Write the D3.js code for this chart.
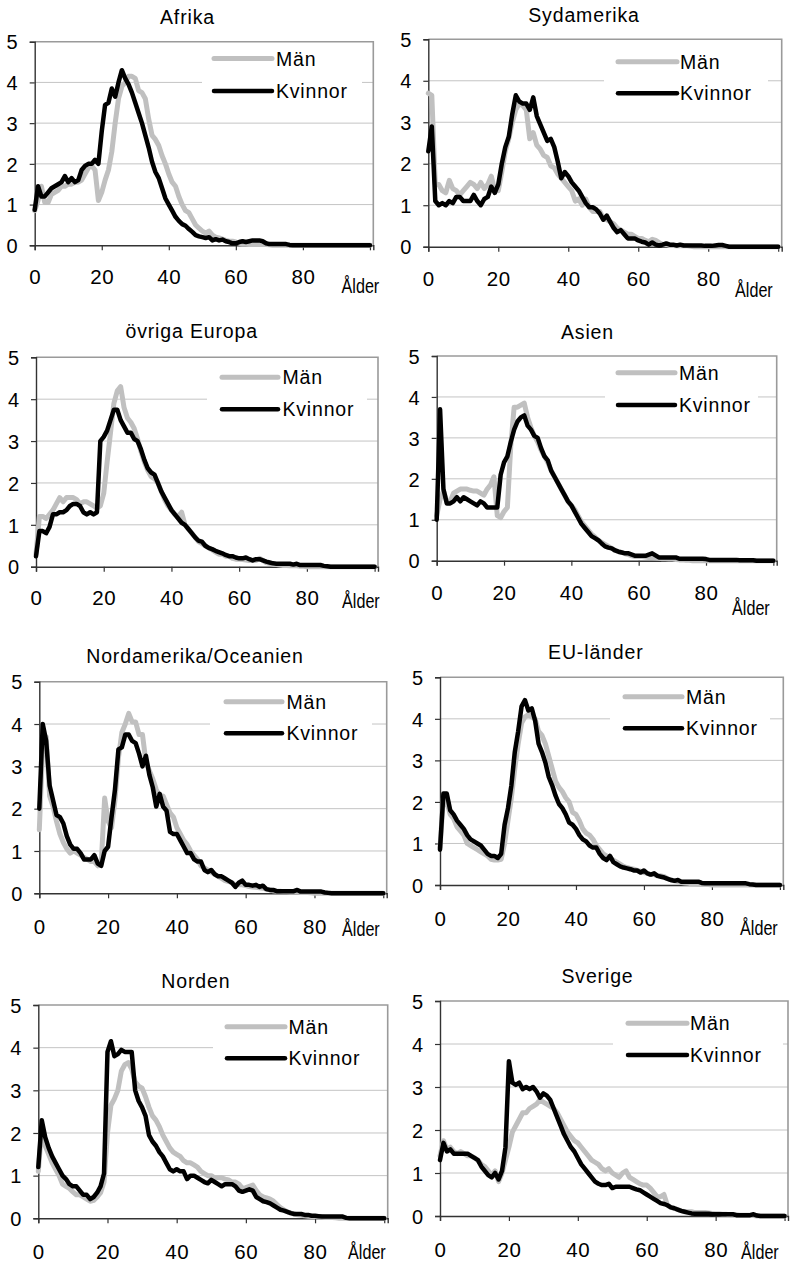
<!DOCTYPE html>
<html>
<head>
<meta charset="utf-8">
<script src="https://cdn.jsdelivr.net/npm/d3@7"></script>
<style>
  body { margin: 0; background: #fff; }
  svg { display: block; font-family: "Liberation Sans", Arial, sans-serif; }
</style>
</head>
<body>
<svg id="chart" width="790" height="1264"></svg>
<script>
// ---------- DATA ----------
const ages = d3.range(0, 101);
const seriesNames = ["Män", "Kvinnor"];
const xTickValues = [0, 20, 40, 60, 80];
const yTickValues = [0, 1, 2, 3, 4, 5];
const titles = ["Afrika", "Sydamerika", "övriga Europa", "Asien", "Nordamerika/Oceanien", "EU-länder", "Norden", "Sverige"];
const xAxisLabel = "Ålder";

const afrikaMan = [
0.85,1.1,1.45,1.05,1.05,1.25,1.3,1.35,1.45,1.45,
1.5,1.5,1.55,1.55,1.6,1.75,1.9,1.95,1.85,1.1,
1.3,1.6,1.85,2.3,3.0,3.6,3.9,4.0,4.15,4.15,
4.1,3.8,3.75,3.6,3.1,2.7,2.6,2.45,2.2,2.0,
1.75,1.55,1.45,1.2,1.0,0.85,0.8,0.65,0.5,0.42,
0.35,0.3,0.35,0.25,0.2,0.18,0.15,0.12,0.1,0.1,
0.08,0.05,0.03,0.03,0.02,0.02,0.02,0.02,0.02,0.02,
0.01,0,0,0,0,0,0,0,0,0,
0,0,0,0,0,0,0,0,0,0,
0,0,0,0,0,0,0,0,0,0,0];
const afrikaKvinnor = [
0.87,1.45,1.2,1.2,1.3,1.4,1.45,1.5,1.55,1.7,
1.55,1.65,1.55,1.6,1.85,1.95,2.0,2.0,2.1,2.0,
2.8,3.45,3.5,3.85,3.65,4.0,4.3,4.1,3.95,3.75,
3.5,3.25,3.0,2.7,2.4,2.05,1.8,1.65,1.4,1.15,
1.0,0.85,0.7,0.6,0.52,0.48,0.4,0.33,0.25,0.22,
0.2,0.18,0.2,0.12,0.15,0.12,0.14,0.1,0.08,0.05,
0.05,0.08,0.1,0.08,0.1,0.12,0.12,0.12,0.1,0.05,
0.03,0.03,0.03,0.03,0.03,0.03,0.01,0,0,0,
0,0,0,0,0,0,0,0,0,0,
0,0,0,0,0,0,0,0,0,0,0];

const sydamerikaMan = [
3.7,3.65,1.5,1.5,1.35,1.3,1.6,1.4,1.35,1.25,
1.35,1.45,1.55,1.5,1.4,1.55,1.4,1.5,1.7,1.35,
1.35,1.8,2.3,2.6,3.0,3.3,3.45,3.4,3.3,2.6,
2.75,2.45,2.35,2.2,2.15,1.95,1.9,1.75,1.65,1.55,
1.45,1.35,1.1,1.15,1.0,1.15,0.95,0.85,0.85,0.85,
0.7,0.65,0.6,0.55,0.45,0.4,0.35,0.3,0.3,0.25,
0.2,0.2,0.15,0.12,0.18,0.15,0.1,0.05,0.05,0.03,
0.03,0.02,0.02,0.02,0.02,0.01,0,0,0,0,
0,0,0,0,0,0,0,0,0,0,
0,0,0,0,0,0,0,0,0,0,0];
const sydamerikaKvinnor = [
2.3,2.9,1.1,1.0,1.05,1.0,1.1,1.05,1.2,1.2,
1.1,1.1,1.1,1.25,1.1,1.0,1.15,1.2,1.45,1.3,
1.5,2.0,2.4,2.65,3.2,3.65,3.5,3.45,3.45,3.3,
3.6,3.15,2.95,2.75,2.55,2.6,2.4,2.05,1.65,1.8,
1.7,1.55,1.45,1.35,1.2,1.05,0.95,0.95,0.9,0.8,
0.65,0.75,0.6,0.45,0.35,0.4,0.3,0.2,0.2,0.2,
0.15,0.12,0.1,0.05,0.1,0.05,0.03,0.05,0.08,0.05,
0.05,0.03,0.05,0.03,0.03,0.03,0.03,0.03,0.03,0.02,
0.02,0.02,0.03,0.04,0.04,0.02,0,0,0,0,
0,0,0,0,0,0,0,0,0,0,0];

const europaMan = [
0.3,1.2,1.2,1.15,1.25,1.35,1.5,1.65,1.55,1.65,
1.65,1.65,1.6,1.5,1.55,1.55,1.5,1.45,1.4,1.45,
1.75,2.5,3.2,3.9,4.2,4.3,3.8,3.55,3.45,3.3,
3.05,2.75,2.5,2.3,2.15,2.1,2.0,1.8,1.6,1.45,
1.35,1.25,1.2,1.3,1.0,0.9,0.8,0.7,0.6,0.55,
0.5,0.45,0.4,0.35,0.3,0.3,0.25,0.25,0.2,0.18,
0.18,0.17,0.16,0.15,0.15,0.15,0.2,0.15,0.1,0.08,
0.06,0.05,0.04,0.03,0.03,0.02,0.02,0.02,0.01,0.01,
0,0,0,0,0,0,0,0,0,0,
0,0,0,0,0,0,0,0,0,0,0];
const europaKvinnor = [
0.25,0.85,0.85,0.8,0.95,1.25,1.25,1.3,1.3,1.35,
1.45,1.5,1.5,1.45,1.3,1.25,1.3,1.25,1.3,3.0,
3.1,3.25,3.5,3.75,3.75,3.5,3.35,3.2,3.2,3.05,
3.0,2.8,2.55,2.35,2.25,2.2,2.0,1.8,1.65,1.5,
1.35,1.25,1.15,1.05,1.0,0.9,0.8,0.7,0.62,0.6,
0.5,0.45,0.42,0.38,0.35,0.32,0.28,0.25,0.25,0.22,
0.2,0.2,0.22,0.18,0.15,0.18,0.18,0.15,0.12,0.1,
0.08,0.07,0.07,0.07,0.07,0.07,0.05,0.07,0.04,0.04,
0.04,0.04,0.04,0.04,0.04,0.02,0.01,0,0,0,
0,0,0,0,0,0,0,0,0,0,0];

const asienMan = [
1.1,1.5,1.7,1.45,1.45,1.65,1.7,1.75,1.75,1.75,
1.72,1.7,1.7,1.65,1.6,1.75,1.85,2.05,1.1,1.05,
1.2,1.3,2.8,3.75,3.75,3.8,3.85,3.5,3.25,3.05,
2.9,2.7,2.55,2.4,2.2,2.05,1.9,1.75,1.6,1.45,
1.35,1.25,1.1,0.95,0.85,0.75,0.65,0.58,0.5,0.45,
0.4,0.35,0.3,0.25,0.22,0.2,0.17,0.15,0.12,0.1,
0.1,0.1,0.09,0.08,0.08,0.07,0.06,0.05,0.05,0.04,
0.04,0.03,0.02,0.02,0.01,0.01,0,0,0,0,
0,0,0,0,0,0,0,0,0,0,
0,0,0,0,0,0,0,0,0,0,0];
const asienKvinnor = [
1.0,3.7,1.75,1.4,1.4,1.45,1.55,1.45,1.55,1.5,
1.45,1.4,1.35,1.45,1.4,1.3,1.3,1.3,1.3,2.1,
2.4,2.55,2.9,3.2,3.4,3.5,3.55,3.3,3.2,3.05,
3.0,2.75,2.55,2.45,2.2,2.05,1.9,1.75,1.6,1.45,
1.35,1.2,1.05,0.9,0.8,0.7,0.6,0.55,0.5,0.42,
0.35,0.32,0.3,0.25,0.22,0.2,0.18,0.18,0.15,0.12,
0.12,0.12,0.12,0.15,0.18,0.13,0.08,0.08,0.08,0.08,
0.08,0.08,0.05,0.05,0.05,0.05,0.05,0.05,0.05,0.05,
0.04,0.02,0.02,0.02,0.02,0.02,0.02,0.02,0.02,0.02,
0.01,0.01,0.01,0.01,0.01,0,0,0,0,0,0];

const nordamerikaMan = [
1.5,3.5,3.7,2.3,2.05,1.7,1.4,1.2,1.05,0.95,
1.0,0.95,0.9,0.85,0.8,0.75,0.75,0.65,0.7,2.25,
1.7,1.55,2.2,3.2,3.8,4.0,4.25,4.05,4.05,3.75,
3.75,3.1,2.9,2.7,2.45,2.3,2.3,2.1,1.9,1.8,
1.55,1.4,1.25,1.15,1.0,0.9,0.8,0.65,0.6,0.55,
0.5,0.45,0.4,0.35,0.3,0.28,0.25,0.2,0.2,0.2,
0.18,0.16,0.15,0.14,0.13,0.12,0.1,0.08,0.06,0.05,
0.05,0.04,0.04,0.03,0.03,0.03,0.02,0.02,0.02,0.01,
0,0,0,0,0,0,0,0,0,0,
0,0,0,0,0,0,0,0,0,0,0];
const nordamerikaKvinnor = [
2.0,4.0,3.6,2.55,2.2,1.85,1.8,1.65,1.35,1.15,
1.05,1.05,0.95,0.8,0.8,0.8,0.9,0.7,0.65,1.0,
1.1,1.8,2.45,3.4,3.45,3.75,3.75,3.6,3.55,3.3,
3.0,3.25,2.8,2.5,2.05,2.35,2.05,1.95,1.45,1.4,
1.4,1.25,1.1,0.95,0.95,0.8,0.75,0.75,0.55,0.5,
0.55,0.45,0.4,0.4,0.35,0.3,0.25,0.15,0.25,0.3,
0.2,0.2,0.18,0.2,0.15,0.18,0.1,0.08,0.08,0.05,
0.05,0.05,0.05,0.05,0.05,0.08,0.04,0.04,0.04,0.04,
0.04,0.04,0.04,0.02,0.01,0,0,0,0,0,
0,0,0,0,0,0,0,0,0,0,0];

const euMan = [
0.9,2.1,2.0,1.7,1.6,1.4,1.3,1.2,1.0,0.95,
0.9,0.85,0.8,0.75,0.7,0.62,0.6,0.6,0.62,1.0,
1.55,2.1,2.8,3.4,3.9,4.05,4.1,4.05,4.0,3.7,
3.6,3.4,3.1,2.8,2.5,2.35,2.25,2.1,2.0,1.75,
1.7,1.55,1.35,1.25,1.2,1.1,0.95,0.85,0.75,0.7,
0.65,0.6,0.55,0.5,0.45,0.42,0.4,0.38,0.35,0.33,
0.3,0.28,0.25,0.25,0.22,0.22,0.2,0.15,0.12,0.1,
0.08,0.06,0.05,0.04,0.03,0.03,0.02,0.02,0.02,0.01,
0,0,0,0,0,0,0,0,0,0,
0,0,0,0,0,0,0,0,0,0,0];
const euKvinnor = [
0.85,2.2,2.2,1.8,1.7,1.55,1.45,1.35,1.2,1.1,
1.05,1.0,0.95,0.85,0.75,0.7,0.7,0.65,0.75,1.45,
1.85,2.4,3.2,3.7,4.3,4.45,4.2,4.25,3.95,3.4,
3.2,2.95,2.6,2.4,2.15,1.95,1.85,1.7,1.5,1.45,
1.35,1.2,1.1,1.05,0.95,0.9,0.9,0.75,0.65,0.6,
0.7,0.55,0.5,0.45,0.42,0.4,0.38,0.35,0.35,0.3,
0.35,0.28,0.25,0.28,0.22,0.2,0.18,0.15,0.12,0.1,
0.12,0.08,0.08,0.08,0.08,0.08,0.08,0.05,0.04,0.04,
0.04,0.04,0.04,0.04,0.04,0.04,0.04,0.04,0.04,0.04,
0.04,0.02,0.01,0,0,0,0,0,0,0,0];

const nordenMan = [
1.1,2.1,1.7,1.5,1.3,1.15,1.0,0.8,0.75,0.7,
0.62,0.55,0.55,0.5,0.45,0.4,0.42,0.5,0.6,0.85,
2.0,2.65,2.8,3.0,3.45,3.6,3.65,3.5,3.2,3.1,
3.05,2.85,2.6,2.4,2.3,2.15,1.95,1.8,1.65,1.55,
1.5,1.45,1.35,1.3,1.3,1.25,1.2,1.1,1.05,1.0,
1.0,0.95,0.95,0.95,0.92,0.9,0.85,0.85,0.8,0.7,
0.72,0.75,0.78,0.65,0.55,0.5,0.48,0.45,0.4,0.32,
0.25,0.2,0.15,0.12,0.1,0.08,0.07,0.06,0.05,0.04,
0.04,0.03,0.03,0.02,0.02,0.02,0.01,0,0,0,
0,0,0,0,0,0,0,0,0,0,0];
const nordenKvinnor = [
1.2,2.3,1.9,1.65,1.45,1.3,1.15,1.0,0.92,0.8,
0.75,0.75,0.65,0.55,0.55,0.45,0.5,0.6,0.75,1.05,
3.9,4.15,3.8,3.85,3.95,3.9,3.9,3.9,3.0,2.75,
2.6,2.4,1.95,1.8,1.7,1.55,1.45,1.3,1.15,1.1,
1.15,1.1,1.1,0.92,1.0,1.0,0.95,0.9,0.85,0.82,
0.9,0.85,0.8,0.75,0.8,0.8,0.8,0.75,0.65,0.62,
0.65,0.68,0.65,0.5,0.45,0.4,0.38,0.35,0.3,0.25,
0.2,0.18,0.15,0.12,0.1,0.1,0.1,0.08,0.08,0.06,
0.06,0.05,0.04,0.04,0.04,0.04,0.04,0.04,0.04,0.01,
0,0,0,0,0,0,0,0,0,0,0];

const sverigeMan = [
1.4,1.75,1.55,1.6,1.5,1.45,1.5,1.45,1.4,1.4,
1.35,1.3,1.2,1.15,1.05,0.95,1.05,0.8,1.0,1.3,
1.6,1.95,2.1,2.25,2.4,2.4,2.5,2.55,2.6,2.7,
2.65,2.6,2.55,2.5,2.4,2.25,2.1,1.95,1.85,1.75,
1.7,1.6,1.5,1.4,1.3,1.25,1.2,1.1,1.05,1.1,
1.0,0.95,0.9,1.0,1.05,0.9,0.85,0.8,0.75,0.72,
0.72,0.65,0.55,0.45,0.45,0.5,0.25,0.2,0.18,0.15,
0.12,0.1,0.1,0.1,0.08,0.08,0.08,0.08,0.07,0.06,
0.05,0.05,0.04,0.04,0.03,0.03,0.03,0.02,0.02,0.02,
0.02,0.01,0,0,0,0,0,0,0,0,0];
const sverigeKvinnor = [
1.3,1.7,1.5,1.55,1.45,1.45,1.45,1.45,1.45,1.4,
1.35,1.3,1.15,1.05,0.95,0.9,1.0,0.85,1.05,1.6,
3.6,3.1,3.05,3.1,2.95,3.0,2.95,3.0,2.9,2.75,
2.85,2.8,2.7,2.5,2.3,2.1,1.9,1.75,1.6,1.5,
1.35,1.2,1.1,1.0,0.9,0.8,0.75,0.72,0.72,0.75,
0.65,0.68,0.68,0.68,0.68,0.68,0.65,0.62,0.6,0.55,
0.5,0.45,0.4,0.35,0.3,0.28,0.25,0.2,0.18,0.15,
0.12,0.1,0.08,0.06,0.05,0.05,0.05,0.05,0.05,0.04,
0.04,0.04,0.04,0.04,0.04,0.04,0.02,0.02,0.02,0.02,
0.02,0.04,0.01,0,0,0,0,0,0,0,0];

const manSeries = [afrikaMan, sydamerikaMan, europaMan, asienMan, nordamerikaMan, euMan, nordenMan, sverigeMan];
const kvinnorSeries = [afrikaKvinnor, sydamerikaKvinnor, europaKvinnor, asienKvinnor, nordamerikaKvinnor, euKvinnor, nordenKvinnor, sverigeKvinnor];

// ---------- LAYOUT (positions only) ----------
const layout = [
 {L:34.7, R:373.3, T:41.7,  B:245.3,  tx:187.5, ty:24,    xlb:283.5, ax:341.5, ay:293,  lx1:214, lx2:272, ly1:58.5,  ly2:91,    ltx:276,   bx0:202, bx1:362},
 {L:428.3,R:781.7, T:39.3,  B:246.7,  tx:584,   ty:22,    xlb:286,   ax:735,   ay:297,  lx1:618, lx2:677, ly1:61.7,  ly2:93.3,  ltx:680,   bx0:604, bx1:768},
 {L:36,   R:378,   T:357.3, B:566.7,  tx:191.7, ty:337.5, xlb:604.5, ax:342,   ay:608,  lx1:222, lx2:278, ly1:377.3, ly2:409.3, ltx:282.5, bx0:207, bx1:367},
 {L:436.7,R:776.7, T:356,   B:560.7,  tx:587.5, ty:338.5, xlb:599.5, ax:732,   ay:615,  lx1:618, lx2:675, ly1:372.7, ly2:405,   ltx:679,   bx0:605, bx1:758},
 {L:39.3, R:386.7, T:681.7, B:893.3,  tx:195,   ty:662.5, xlb:934,   ax:342,   ay:936,  lx1:226, lx2:282, ly1:701.7, ly2:733.3, ltx:286.5, bx0:210, bx1:372},
 {L:440,  R:783.3, T:677.3, B:885,    tx:595.8, ty:659.3, xlb:926,   ax:740,   ay:935,  lx1:625, lx2:682, ly1:696.7, ly2:728.3, ltx:686,   bx0:610, bx1:770},
 {L:38.3, R:387.7, T:1005,  B:1218.3, tx:195.8, ty:987.7, xlb:1259,  ax:348,   ay:1259, lx1:227, lx2:285, ly1:1026.7,ly2:1058.3,ltx:288.5, bx0:213, bx1:387.7},
 {L:440,  R:788,   T:1001,  B:1216,   tx:597.5, ty:983.3, xlb:1257,  ax:741,   ay:1258.5,lx1:628, lx2:687, ly1:1023.3,ly2:1055,  ltx:690,   bx0:613, bx1:783}
];

const colMan = "#c0c0c0", colKv = "#000000";
const svg = d3.select("#chart");

layout.forEach((p, i) => {
  const g = svg.append("g");
  const x = d3.scaleLinear().domain([0, 101]).range([p.L, p.R]);
  const y = d3.scaleLinear().domain([0, 5]).range([p.B, p.T]);

  // gridlines
  g.selectAll("line.grid").data(yTickValues.filter(v => v > 0 && v < 5)).enter()
    .append("line").attr("x1", p.L).attr("x2", p.R)
    .attr("y1", d => y(d)).attr("y2", d => y(d))
    .attr("stroke", "#c4c4c4").attr("stroke-width", 1);

  // legend background (hides gridline)
  g.append("rect").attr("x", p.bx0).attr("y", p.ly1 - 17)
    .attr("width", p.bx1 - p.bx0).attr("height", p.ly2 - p.ly1 + 34)
    .attr("fill", "#fff");

  // frame top/right
  g.append("path")
    .attr("d", `M${p.L},${y(5)}H${p.R}V${p.B}`)
    .attr("fill", "none").attr("stroke", "#9a9a9a").attr("stroke-width", 1.6);

  // y axis
  const yAxis = d3.axisLeft(y).tickValues(yTickValues).tickSize(5).tickPadding(12).tickFormat(d3.format("d"));
  const ya = g.append("g").attr("transform", `translate(${p.L},0)`).call(yAxis);
  ya.select(".domain").attr("stroke", "#333").attr("stroke-width", 1.4);
  ya.selectAll(".tick line").attr("stroke", "#333").attr("stroke-width", 1.2);
  ya.selectAll("text").attr("font-size", 20).attr("fill", "#000")
    .attr("font-family", "Liberation Sans, Arial, sans-serif")
    .attr("dy", "0.36em");

  // x axis
  const xAxis = d3.axisBottom(x).tickValues([0, 20, 40, 60, 80, 100]).tickSize(5).tickFormat(d => xTickValues.includes(d) ? d : "");
  const xa = g.append("g").attr("transform", `translate(0,${p.B})`).call(xAxis);
  xa.select(".domain").attr("stroke", "#333").attr("stroke-width", 1.4);
  xa.selectAll(".tick line").attr("stroke", "#333").attr("stroke-width", 1.2);
  xa.selectAll("text").attr("font-size", 20.5).attr("fill", "#000")
    .attr("font-family", "Liberation Sans, Arial, sans-serif")
    .attr("letter-spacing", 0.6)
    .attr("y", null).attr("dy", null)
    .attr("transform", `translate(0,${p.xlb - p.B})`);

  // Ålder label (condensed)
  g.append("text").attr("transform", `translate(${p.ax},${p.ay}) scale(0.83,1)`)
    .attr("font-size", 19.5).text(xAxisLabel);

  // title
  g.append("text").attr("x", p.tx).attr("y", p.ty).attr("text-anchor", "middle")
    .attr("font-size", 19.5).attr("letter-spacing", 0.85).text(titles[i]);

  // lines
  const line = d3.line().x((d, j) => x(ages[j])).y(d => y(d));
  g.append("path").datum(manSeries[i]).attr("d", line)
    .attr("fill", "none").attr("stroke", colMan).attr("stroke-width", 5)
    .attr("stroke-linejoin", "round").attr("stroke-linecap", "round");
  g.append("path").datum(kvinnorSeries[i]).attr("d", line)
    .attr("fill", "none").attr("stroke", colKv).attr("stroke-width", 4.5)
    .attr("stroke-linejoin", "round").attr("stroke-linecap", "round");

  // legend
  const leg = [{name: seriesNames[0], c: colMan, y: p.ly1, w: 5}, {name: seriesNames[1], c: colKv, y: p.ly2, w: 4.5}];
  leg.forEach(l => {
    g.append("line").attr("x1", p.lx1).attr("x2", p.lx2).attr("y1", l.y).attr("y2", l.y)
      .attr("stroke", l.c).attr("stroke-width", l.w).attr("stroke-linecap", "round");
    g.append("text").attr("x", p.ltx).attr("y", l.y).attr("dy", "0.36em")
      .attr("font-size", 19.5).attr("letter-spacing", 0.8).text(l.name);
  });
});
</script>
</body>
</html>
